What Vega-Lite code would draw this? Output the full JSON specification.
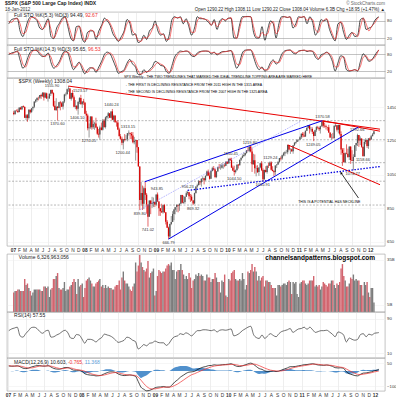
{
"$schema":"https://vega.github.io/schema/vega-lite/v6.json",
"padding":{"left":5,"top":0,"right":0,"bottom":0},
"background":"white",
"spacing":0,
"title":{"text":"$SPX (S&P 500 Large Cap Index) INDX","subtitle":"18-Jan-2012","anchor":"start","frame":"bounds","fontSize":5,"fontWeight":"bold","color":"#222","subtitleFontSize":4.5,"subtitleColor":"#333","subtitlePadding":1,"offset":-11},
"config":{
 "font":"Liberation Sans",
 "view":{"stroke":"#9c9c9c","strokeWidth":0.6},
 "axis":{"labelFontSize":4.3,"labelColor":"#333","domain":false,"ticks":false,"tickSize":0,"labelPadding":1.5,"gridColor":"#ececec","gridWidth":0.5,"minExtent":0,"titlePadding":0},
 "title":{"font":"Liberation Sans","subtitleFont":"Liberation Sans"}
},
"datasets":{
"p":[
{"d":"2007-01-05","o":1418,"h":1429,"l":1403,"c":1409.7,"v":13},
{"d":"2007-01-12","o":1410,"h":1431,"l":1405,"c":1430.7,"v":14},
{"d":"2007-01-19","o":1431,"h":1437,"l":1425,"c":1430.5,"v":14},
{"d":"2007-01-26","o":1430,"h":1441,"l":1416,"c":1422.2,"v":15},
{"d":"2007-02-02","o":1422,"h":1449,"l":1420,"c":1448.4,"v":15},
{"d":"2007-02-09","o":1448,"h":1453,"l":1436,"c":1438.1,"v":14},
{"d":"2007-02-16","o":1438,"h":1457,"l":1433,"c":1455.5,"v":14},
{"d":"2007-02-23","o":1456,"h":1461,"l":1448,"c":1451.2,"v":14},
{"d":"2007-03-02","o":1451,"h":1456,"l":1386,"c":1387.2,"v":22},
{"d":"2007-03-09","o":1387,"h":1410,"l":1374,"c":1402.8,"v":18},
{"d":"2007-03-16","o":1403,"h":1410,"l":1364,"c":1386.9,"v":19},
{"d":"2007-03-23","o":1387,"h":1438,"l":1377,"c":1436.1,"v":16},
{"d":"2007-03-30","o":1436,"h":1437,"l":1413,"c":1420.9,"v":14},
{"d":"2007-04-06","o":1421,"h":1445,"l":1418,"c":1443.8,"v":11},
{"d":"2007-04-13","o":1444,"h":1453,"l":1431,"c":1452.9,"v":13},
{"d":"2007-04-20","o":1453,"h":1485,"l":1445,"c":1484.4,"v":15},
{"d":"2007-04-27","o":1484,"h":1498,"l":1476,"c":1494.1,"v":15},
{"d":"2007-05-04","o":1494,"h":1510,"l":1483,"c":1505.6,"v":15},
{"d":"2007-05-11","o":1506,"h":1513,"l":1491,"c":1505.9,"v":15},
{"d":"2007-05-18","o":1506,"h":1523,"l":1498,"c":1522.8,"v":15},
{"d":"2007-05-25","o":1523,"h":1530,"l":1500,"c":1515.7,"v":14},
{"d":"2007-06-01","o":1516,"h":1540,"l":1512,"c":1536.3,"v":14},
{"d":"2007-06-08","o":1536,"h":1540,"l":1490,"c":1507.7,"v":17},
{"d":"2007-06-15","o":1508,"h":1539,"l":1504,"c":1532.9,"v":17},
{"d":"2007-06-22","o":1533,"h":1537,"l":1500,"c":1502.6,"v":16},
{"d":"2007-06-29","o":1503,"h":1515,"l":1484,"c":1503.4,"v":17},
{"d":"2007-07-06","o":1503,"h":1532,"l":1500,"c":1530.4,"v":10},
{"d":"2007-07-13","o":1530,"h":1555,"l":1517,"c":1552.5,"v":15},
{"d":"2007-07-20","o":1552,"h":1556,"l":1528,"c":1534.1,"v":16},
{"d":"2007-07-27","o":1534,"h":1539,"l":1452,"c":1458.9,"v":22},
{"d":"2007-08-03","o":1459,"h":1488,"l":1433,"c":1433.1,"v":22},
{"d":"2007-08-10","o":1433,"h":1504,"l":1430,"c":1453.6,"v":24},
{"d":"2007-08-17","o":1454,"h":1456,"l":1371,"c":1445.9,"v":26},
{"d":"2007-08-24","o":1446,"h":1482,"l":1444,"c":1479.4,"v":16},
{"d":"2007-08-31","o":1479,"h":1488,"l":1432,"c":1474,"v":15},
{"d":"2007-09-07","o":1474,"h":1482,"l":1453,"c":1453.6,"v":15},
{"d":"2007-09-14","o":1454,"h":1485,"l":1437,"c":1484.3,"v":16},
{"d":"2007-09-21","o":1484,"h":1530,"l":1475,"c":1525.8,"v":20},
{"d":"2007-09-28","o":1526,"h":1538,"l":1516,"c":1526.8,"v":14},
{"d":"2007-10-05","o":1527,"h":1561,"l":1527,"c":1557.6,"v":15},
{"d":"2007-10-12","o":1558,"h":1576,"l":1542,"c":1561.8,"v":15},
{"d":"2007-10-19","o":1562,"h":1563,"l":1500,"c":1500.6,"v":17},
{"d":"2007-10-26","o":1501,"h":1536,"l":1490,"c":1535.3,"v":18},
{"d":"2007-11-02","o":1535,"h":1552,"l":1502,"c":1509.7,"v":20},
{"d":"2007-11-09","o":1510,"h":1520,"l":1450,"c":1453.7,"v":22},
{"d":"2007-11-16","o":1454,"h":1493,"l":1439,"c":1458.7,"v":20},
{"d":"2007-11-23","o":1459,"h":1462,"l":1431,"c":1440.7,"v":12},
{"d":"2007-11-30","o":1441,"h":1488,"l":1406,"c":1481.1,"v":22},
{"d":"2007-12-07","o":1481,"h":1510,"l":1469,"c":1504.7,"v":17},
{"d":"2007-12-14","o":1505,"h":1524,"l":1467,"c":1468,"v":18},
{"d":"2007-12-21","o":1468,"h":1485,"l":1446,"c":1484.5,"v":19},
{"d":"2007-12-28","o":1485,"h":1500,"l":1465,"c":1478.5,"v":10},
{"d":"2008-01-04","o":1478,"h":1478,"l":1411,"c":1411.6,"v":16},
{"d":"2008-01-11","o":1412,"h":1429,"l":1364,"c":1401,"v":21},
{"d":"2008-01-18","o":1401,"h":1412,"l":1313,"c":1325.2,"v":22},
{"d":"2008-01-25","o":1325,"h":1354,"l":1270,"c":1330.6,"v":23},
{"d":"2008-02-01","o":1331,"h":1396,"l":1322,"c":1395.4,"v":21},
{"d":"2008-02-08","o":1395,"h":1396,"l":1317,"c":1331.3,"v":19},
{"d":"2008-02-15","o":1331,"h":1368,"l":1321,"c":1350,"v":17},
{"d":"2008-02-22","o":1350,"h":1364,"l":1316,"c":1353.1,"v":17},
{"d":"2008-02-29","o":1353,"h":1388,"l":1326,"c":1330.6,"v":19},
{"d":"2008-03-07","o":1331,"h":1336,"l":1285,"c":1293.4,"v":20},
{"d":"2008-03-14","o":1293,"h":1321,"l":1270,"c":1288.1,"v":21},
{"d":"2008-03-20","o":1288,"h":1341,"l":1257,"c":1329.5,"v":22},
{"d":"2008-03-28","o":1330,"h":1359,"l":1313,"c":1315.2,"v":17},
{"d":"2008-04-04","o":1316,"h":1380,"l":1312,"c":1370.4,"v":18},
{"d":"2008-04-11","o":1370,"h":1380,"l":1328,"c":1332.8,"v":16},
{"d":"2008-04-18","o":1333,"h":1395,"l":1324,"c":1390.3,"v":18},
{"d":"2008-04-25","o":1390,"h":1400,"l":1376,"c":1397.8,"v":16},
{"d":"2008-05-02","o":1398,"h":1422,"l":1383,"c":1413.9,"v":17},
{"d":"2008-05-09","o":1414,"h":1416,"l":1386,"c":1388.3,"v":16},
{"d":"2008-05-16","o":1388,"h":1426,"l":1385,"c":1425.4,"v":16},
{"d":"2008-05-23","o":1426,"h":1440,"l":1373,"c":1375.9,"v":15},
{"d":"2008-05-30","o":1376,"h":1406,"l":1362,"c":1400.4,"v":15},
{"d":"2008-06-06","o":1400,"h":1404,"l":1359,"c":1360.7,"v":17},
{"d":"2008-06-13","o":1361,"h":1370,"l":1335,"c":1360,"v":18},
{"d":"2008-06-20","o":1360,"h":1372,"l":1315,"c":1317.9,"v":18},
{"d":"2008-06-27","o":1318,"h":1329,"l":1278,"c":1278.4,"v":21},
{"d":"2008-07-03","o":1278,"h":1291,"l":1257,"c":1262.9,"v":15},
{"d":"2008-07-11","o":1263,"h":1276,"l":1225,"c":1239.5,"v":23},
{"d":"2008-07-18","o":1239,"h":1262,"l":1200,"c":1260.7,"v":27},
{"d":"2008-07-25","o":1261,"h":1291,"l":1247,"c":1257.8,"v":21},
{"d":"2008-08-01","o":1258,"h":1285,"l":1253,"c":1260.3,"v":19},
{"d":"2008-08-08","o":1260,"h":1296,"l":1248,"c":1296.3,"v":19},
{"d":"2008-08-15","o":1296,"h":1313,"l":1282,"c":1298.2,"v":17},
{"d":"2008-08-22","o":1298,"h":1300,"l":1261,"c":1292.2,"v":15},
{"d":"2008-08-29","o":1292,"h":1303,"l":1262,"c":1282.8,"v":14},
{"d":"2008-09-05","o":1283,"h":1303,"l":1236,"c":1242.3,"v":17},
{"d":"2008-09-12","o":1242,"h":1274,"l":1230,"c":1251.7,"v":19},
{"d":"2008-09-19","o":1252,"h":1256,"l":1133,"c":1255.1,"v":33},
{"d":"2008-09-26","o":1255,"h":1256,"l":1180,"c":1213.3,"v":27},
{"d":"2008-10-03","o":1213,"h":1214,"l":1097,"c":1099.2,"v":31},
{"d":"2008-10-10","o":1099,"h":1100,"l":840,"c":899.2,"v":38},
{"d":"2008-10-17","o":899,"h":1006,"l":866,"c":940.6,"v":33},
{"d":"2008-10-24","o":941,"h":985,"l":840,"c":876.8,"v":30},
{"d":"2008-10-31","o":877,"h":979,"l":845,"c":968.8,"v":28},
{"d":"2008-11-07","o":969,"h":1008,"l":899,"c":931,"v":27},
{"d":"2008-11-14","o":931,"h":941,"l":818,"c":873.3,"v":29},
{"d":"2008-11-21","o":873,"h":873,"l":741,"c":800,"v":34},
{"d":"2008-11-28","o":800,"h":897,"l":800,"c":896.2,"v":23},
{"d":"2008-12-05","o":896,"h":897,"l":815,"c":876.1,"v":26},
{"d":"2008-12-12","o":876,"h":918,"l":852,"c":879.7,"v":27},
{"d":"2008-12-19","o":880,"h":914,"l":857,"c":887.9,"v":29},
{"d":"2008-12-26","o":888,"h":890,"l":857,"c":872.8,"v":11},
{"d":"2009-01-02","o":873,"h":932,"l":866,"c":931.8,"v":14},
{"d":"2009-01-09","o":932,"h":944,"l":889,"c":890.4,"v":24},
{"d":"2009-01-16","o":890,"h":892,"l":805,"c":850.1,"v":28},
{"d":"2009-01-23","o":850,"h":851,"l":805,"c":832,"v":27},
{"d":"2009-01-30","o":832,"h":877,"l":822,"c":825.9,"v":26},
{"d":"2009-02-06","o":826,"h":870,"l":818,"c":868.6,"v":27},
{"d":"2009-02-13","o":869,"h":876,"l":822,"c":826.8,"v":27},
{"d":"2009-02-20","o":827,"h":827,"l":754,"c":770.1,"v":29},
{"d":"2009-02-27","o":770,"h":780,"l":734,"c":735.1,"v":31},
{"d":"2009-03-06","o":735,"h":741,"l":667,"c":683.4,"v":32},
{"d":"2009-03-13","o":683,"h":759,"l":672,"c":756.6,"v":31},
{"d":"2009-03-20","o":757,"h":804,"l":750,"c":768.5,"v":33},
{"d":"2009-03-27","o":769,"h":833,"l":768,"c":815.9,"v":28},
{"d":"2009-04-03","o":816,"h":845,"l":779,"c":842.5,"v":28},
{"d":"2009-04-09","o":842,"h":857,"l":814,"c":856.6,"v":22},
{"d":"2009-04-17","o":857,"h":875,"l":829,"c":869.6,"v":27},
{"d":"2009-04-24","o":870,"h":872,"l":826,"c":866.2,"v":28},
{"d":"2009-05-01","o":866,"h":878,"l":835,"c":877.5,"v":28},
{"d":"2009-05-08","o":877,"h":930,"l":876,"c":929.2,"v":32},
{"d":"2009-05-15","o":929,"h":930,"l":879,"c":882.9,"v":28},
{"d":"2009-05-22","o":883,"h":925,"l":877,"c":887,"v":25},
{"d":"2009-05-29","o":887,"h":920,"l":877,"c":919.1,"v":22},
{"d":"2009-06-05","o":919,"h":951,"l":918,"c":940.1,"v":24},
{"d":"2009-06-12","o":940,"h":956,"l":929,"c":946.2,"v":22},
{"d":"2009-06-19","o":946,"h":946,"l":903,"c":921.2,"v":26},
{"d":"2009-06-26","o":921,"h":935,"l":888,"c":918.9,"v":23},
{"d":"2009-07-02","o":919,"h":931,"l":896,"c":896.4,"v":16},
{"d":"2009-07-10","o":896,"h":899,"l":869,"c":879.1,"v":21},
{"d":"2009-07-17","o":879,"h":943,"l":875,"c":940.4,"v":22},
{"d":"2009-07-24","o":940,"h":980,"l":940,"c":979.3,"v":25},
{"d":"2009-07-31","o":979,"h":996,"l":972,"c":987.5,"v":24},
{"d":"2009-08-07","o":988,"h":1018,"l":985,"c":1010.5,"v":26},
{"d":"2009-08-14","o":1011,"h":1013,"l":990,"c":1004.1,"v":24},
{"d":"2009-08-21","o":1004,"h":1027,"l":979,"c":1026.1,"v":25},
{"d":"2009-08-28","o":1026,"h":1040,"l":1008,"c":1028.9,"v":24},
{"d":"2009-09-04","o":1029,"h":1031,"l":992,"c":1016.4,"v":21},
{"d":"2009-09-11","o":1016,"h":1045,"l":1016,"c":1042.7,"v":21},
{"d":"2009-09-18","o":1043,"h":1074,"l":1040,"c":1068.3,"v":25},
{"d":"2009-09-25","o":1068,"h":1080,"l":1041,"c":1044.4,"v":23},
{"d":"2009-10-02","o":1044,"h":1063,"l":1020,"c":1025.2,"v":23},
{"d":"2009-10-09","o":1025,"h":1076,"l":1025,"c":1071.5,"v":20},
{"d":"2009-10-16","o":1071,"h":1097,"l":1069,"c":1087.7,"v":22},
{"d":"2009-10-23","o":1088,"h":1101,"l":1074,"c":1079.6,"v":22},
{"d":"2009-10-30","o":1080,"h":1085,"l":1029,"c":1036.2,"v":26},
{"d":"2009-11-06","o":1036,"h":1071,"l":1029,"c":1069.3,"v":23},
{"d":"2009-11-13","o":1069,"h":1097,"l":1068,"c":1093.5,"v":20},
{"d":"2009-11-20","o":1093,"h":1113,"l":1085,"c":1091.4,"v":20},
{"d":"2009-11-27","o":1091,"h":1111,"l":1079,"c":1091.5,"v":13},
{"d":"2009-12-04","o":1091,"h":1119,"l":1086,"c":1106,"v":21},
{"d":"2009-12-11","o":1106,"h":1111,"l":1085,"c":1106.4,"v":20},
{"d":"2009-12-18","o":1106,"h":1117,"l":1094,"c":1102.5,"v":25},
{"d":"2009-12-24","o":1102,"h":1129,"l":1102,"c":1126.5,"v":11},
{"d":"2009-12-31","o":1126,"h":1130,"l":1114,"c":1115.1,"v":10},
{"d":"2010-01-08","o":1116,"h":1146,"l":1116,"c":1145,"v":22},
{"d":"2010-01-15","o":1145,"h":1150,"l":1131,"c":1136,"v":21},
{"d":"2010-01-22","o":1136,"h":1150,"l":1090,"c":1091.8,"v":26},
{"d":"2010-01-29","o":1092,"h":1104,"l":1071,"c":1073.9,"v":27},
{"d":"2010-02-05","o":1074,"h":1103,"l":1044,"c":1066.2,"v":28},
{"d":"2010-02-12","o":1066,"h":1081,"l":1057,"c":1075.5,"v":22},
{"d":"2010-02-19","o":1076,"h":1112,"l":1075,"c":1109.2,"v":21},
{"d":"2010-02-26","o":1109,"h":1113,"l":1086,"c":1104.5,"v":21},
{"d":"2010-03-05","o":1105,"h":1139,"l":1104,"c":1138.7,"v":22},
{"d":"2010-03-12","o":1139,"h":1151,"l":1131,"c":1150,"v":21},
{"d":"2010-03-19","o":1150,"h":1170,"l":1147,"c":1159.9,"v":26},
{"d":"2010-03-26","o":1160,"h":1181,"l":1155,"c":1166.6,"v":22},
{"d":"2010-04-02","o":1167,"h":1181,"l":1160,"c":1178.1,"v":15},
{"d":"2010-04-09","o":1178,"h":1195,"l":1175,"c":1194.4,"v":18},
{"d":"2010-04-16","o":1194,"h":1214,"l":1188,"c":1192.1,"v":27},
{"d":"2010-04-23","o":1192,"h":1217,"l":1183,"c":1217.3,"v":26},
{"d":"2010-04-30","o":1217,"h":1220,"l":1182,"c":1186.7,"v":28},
{"d":"2010-05-07","o":1187,"h":1206,"l":1066,"c":1110.9,"v":32},
{"d":"2010-05-14","o":1111,"h":1174,"l":1110,"c":1135.7,"v":27},
{"d":"2010-05-21","o":1136,"h":1170,"l":1056,"c":1087.7,"v":30},
{"d":"2010-05-28","o":1088,"h":1104,"l":1040,"c":1089.4,"v":27},
{"d":"2010-06-04","o":1089,"h":1106,"l":1060,"c":1064.9,"v":21},
{"d":"2010-06-11","o":1065,"h":1093,"l":1043,"c":1091.6,"v":24},
{"d":"2010-06-18","o":1092,"h":1120,"l":1087,"c":1117.5,"v":21},
{"d":"2010-06-25","o":1117,"h":1131,"l":1071,"c":1076.8,"v":23},
{"d":"2010-07-02","o":1077,"h":1087,"l":1011,"c":1022.6,"v":24},
{"d":"2010-07-09","o":1023,"h":1079,"l":1019,"c":1078,"v":17},
{"d":"2010-07-16","o":1078,"h":1100,"l":1062,"c":1064.9,"v":21},
{"d":"2010-07-23","o":1065,"h":1103,"l":1056,"c":1102.7,"v":21},
{"d":"2010-07-30","o":1103,"h":1120,"l":1089,"c":1101.6,"v":20},
{"d":"2010-08-06","o":1102,"h":1128,"l":1101,"c":1121.6,"v":20},
{"d":"2010-08-13","o":1122,"h":1129,"l":1074,"c":1079.3,"v":18},
{"d":"2010-08-20","o":1079,"h":1100,"l":1069,"c":1071.7,"v":16},
{"d":"2010-08-27","o":1072,"h":1076,"l":1040,"c":1064.6,"v":16},
{"d":"2010-09-03","o":1065,"h":1105,"l":1048,"c":1104.5,"v":16},
{"d":"2010-09-10","o":1105,"h":1111,"l":1089,"c":1109.6,"v":11},
{"d":"2010-09-17","o":1110,"h":1131,"l":1108,"c":1125.6,"v":18},
{"d":"2010-09-24","o":1126,"h":1149,"l":1123,"c":1148.7,"v":18},
{"d":"2010-10-01","o":1149,"h":1158,"l":1134,"c":1146.2,"v":17},
{"d":"2010-10-08","o":1146,"h":1168,"l":1138,"c":1165.2,"v":18},
{"d":"2010-10-15","o":1165,"h":1184,"l":1159,"c":1176.2,"v":19},
{"d":"2010-10-22","o":1176,"h":1189,"l":1160,"c":1183.1,"v":19},
{"d":"2010-10-29","o":1183,"h":1197,"l":1176,"c":1183.3,"v":18},
{"d":"2010-11-05","o":1183,"h":1227,"l":1171,"c":1225.9,"v":20},
{"d":"2010-11-12","o":1226,"h":1226,"l":1194,"c":1199.2,"v":21},
{"d":"2010-11-19","o":1199,"h":1207,"l":1173,"c":1199.7,"v":20},
{"d":"2010-11-26","o":1200,"h":1205,"l":1185,"c":1189.4,"v":12},
{"d":"2010-12-03","o":1189,"h":1225,"l":1174,"c":1224.7,"v":20},
{"d":"2010-12-10","o":1225,"h":1241,"l":1220,"c":1240.4,"v":19},
{"d":"2010-12-17","o":1240,"h":1246,"l":1232,"c":1243.9,"v":20},
{"d":"2010-12-23","o":1244,"h":1259,"l":1244,"c":1256.8,"v":12},
{"d":"2010-12-31","o":1257,"h":1260,"l":1247,"c":1257.6,"v":10},
{"d":"2011-01-07","o":1258,"h":1278,"l":1257,"c":1271.5,"v":19},
{"d":"2011-01-14","o":1272,"h":1294,"l":1262,"c":1293.2,"v":20},
{"d":"2011-01-21","o":1293,"h":1303,"l":1271,"c":1283.4,"v":21},
{"d":"2011-01-28","o":1283,"h":1302,"l":1273,"c":1276.3,"v":21},
{"d":"2011-02-04","o":1276,"h":1311,"l":1276,"c":1310.9,"v":19},
{"d":"2011-02-11","o":1311,"h":1330,"l":1309,"c":1329.2,"v":18},
{"d":"2011-02-18","o":1329,"h":1344,"l":1325,"c":1343,"v":19},
{"d":"2011-02-25","o":1343,"h":1343,"l":1294,"c":1319.9,"v":21},
{"d":"2011-03-04","o":1320,"h":1333,"l":1306,"c":1321.2,"v":21},
{"d":"2011-03-11","o":1321,"h":1331,"l":1291,"c":1304.3,"v":21},
{"d":"2011-03-18","o":1304,"h":1305,"l":1249,"c":1279.2,"v":24},
{"d":"2011-03-25","o":1279,"h":1316,"l":1279,"c":1313.8,"v":17},
{"d":"2011-04-01","o":1314,"h":1338,"l":1304,"c":1332.4,"v":18},
{"d":"2011-04-08","o":1332,"h":1340,"l":1320,"c":1328.2,"v":17},
{"d":"2011-04-15","o":1328,"h":1329,"l":1309,"c":1319.7,"v":18},
{"d":"2011-04-21","o":1320,"h":1341,"l":1294,"c":1337.4,"v":15},
{"d":"2011-04-29","o":1337,"h":1364,"l":1333,"c":1363.6,"v":17},
{"d":"2011-05-06","o":1364,"h":1371,"l":1329,"c":1340.2,"v":20},
{"d":"2011-05-13","o":1340,"h":1359,"l":1329,"c":1337.8,"v":19},
{"d":"2011-05-20","o":1338,"h":1347,"l":1318,"c":1333.3,"v":18},
{"d":"2011-05-27","o":1333,"h":1334,"l":1311,"c":1331.1,"v":17},
{"d":"2011-06-03","o":1331,"h":1346,"l":1298,"c":1300.2,"v":19},
{"d":"2011-06-10","o":1300,"h":1300,"l":1268,"c":1271,"v":19},
{"d":"2011-06-17","o":1271,"h":1292,"l":1258,"c":1271.5,"v":21},
{"d":"2011-06-24","o":1271,"h":1298,"l":1262,"c":1268.5,"v":21},
{"d":"2011-07-01","o":1268,"h":1342,"l":1263,"c":1339.7,"v":18},
{"d":"2011-07-08","o":1340,"h":1356,"l":1333,"c":1343.8,"v":16},
{"d":"2011-07-15","o":1344,"h":1344,"l":1306,"c":1316.1,"v":19},
{"d":"2011-07-22","o":1316,"h":1347,"l":1295,"c":1345,"v":18},
{"d":"2011-07-29","o":1345,"h":1346,"l":1283,"c":1292.3,"v":20},
{"d":"2011-08-05","o":1292,"h":1307,"l":1168,"c":1199.4,"v":29},
{"d":"2011-08-12","o":1199,"h":1208,"l":1102,"c":1178.8,"v":32},
{"d":"2011-08-19","o":1179,"h":1208,"l":1122,"c":1123.5,"v":24},
{"d":"2011-08-26","o":1124,"h":1182,"l":1121,"c":1176.8,"v":21},
{"d":"2011-09-02","o":1177,"h":1230,"l":1171,"c":1174,"v":17},
{"d":"2011-09-09","o":1174,"h":1204,"l":1150,"c":1154.2,"v":17},
{"d":"2011-09-16","o":1154,"h":1220,"l":1137,"c":1216,"v":19},
{"d":"2011-09-23","o":1216,"h":1220,"l":1114,"c":1136.4,"v":23},
{"d":"2011-09-30","o":1136,"h":1195,"l":1131,"c":1131.4,"v":22},
{"d":"2011-10-07","o":1131,"h":1171,"l":1075,"c":1155.5,"v":25},
{"d":"2011-10-14","o":1155,"h":1225,"l":1155,"c":1224.6,"v":21},
{"d":"2011-10-21","o":1225,"h":1239,"l":1191,"c":1238.3,"v":22},
{"d":"2011-10-28","o":1238,"h":1293,"l":1220,"c":1285.1,"v":21},
{"d":"2011-11-04","o":1285,"h":1285,"l":1215,"c":1253.2,"v":21},
{"d":"2011-11-11","o":1253,"h":1277,"l":1226,"c":1263.9,"v":18},
{"d":"2011-11-18","o":1264,"h":1266,"l":1210,"c":1215.7,"v":18},
{"d":"2011-11-25","o":1216,"h":1216,"l":1159,"c":1158.7,"v":11},
{"d":"2011-12-02","o":1159,"h":1260,"l":1159,"c":1244.3,"v":20},
{"d":"2011-12-09","o":1244,"h":1267,"l":1231,"c":1255.2,"v":18},
{"d":"2011-12-16","o":1255,"h":1256,"l":1209,"c":1219.7,"v":20},
{"d":"2011-12-23","o":1220,"h":1266,"l":1203,"c":1265.3,"v":13},
{"d":"2011-12-30","o":1265,"h":1270,"l":1249,"c":1257.6,"v":10},
{"d":"2012-01-06","o":1258,"h":1285,"l":1258,"c":1277.8,"v":16},
{"d":"2012-01-13","o":1278,"h":1297,"l":1278,"c":1289.1,"v":16},
{"d":"2012-01-20","o":1290.22,"h":1308.11,"l":1290.22,"c":1308.04,"v":6.33}
],
"i":[
{"d":"2007-01-05","k5":70,"d5":78,"k14":80,"d14":85,"rsi":62,"macd":32,"sig":33,"hist":-1},
{"d":"2007-01-19","k5":85,"d5":75,"k14":85,"d14":82,"rsi":66,"macd":30,"sig":32,"hist":-2},
{"d":"2007-02-02","k5":88,"d5":86,"k14":88,"d14":86,"rsi":68,"macd":31,"sig":31,"hist":0},
{"d":"2007-02-16","k5":90,"d5":88,"k14":92,"d14":90,"rsi":70,"macd":33,"sig":31,"hist":2},
{"d":"2007-03-02","k5":45,"d5":70,"k14":60,"d14":80,"rsi":50,"macd":27,"sig":31,"hist":-4},
{"d":"2007-03-16","k5":25,"d5":35,"k14":30,"d14":45,"rsi":47,"macd":18,"sig":27,"hist":-9},
{"d":"2007-03-30","k5":55,"d5":40,"k14":45,"d14":35,"rsi":55,"macd":15,"sig":22,"hist":-7},
{"d":"2007-04-13","k5":85,"d5":70,"k14":75,"d14":60,"rsi":62,"macd":18,"sig":19,"hist":-1},
{"d":"2007-04-27","k5":96,"d5":92,"k14":92,"d14":85,"rsi":69,"macd":25,"sig":19,"hist":6},
{"d":"2007-05-11","k5":90,"d5":93,"k14":95,"d14":94,"rsi":70,"macd":30,"sig":22,"hist":8},
{"d":"2007-05-25","k5":82,"d5":86,"k14":93,"d14":94,"rsi":67,"macd":34,"sig":27,"hist":7},
{"d":"2007-06-08","k5":55,"d5":70,"k14":80,"d14":87,"rsi":60,"macd":34,"sig":31,"hist":3},
{"d":"2007-06-22","k5":50,"d5":52,"k14":72,"d14":75,"rsi":56,"macd":31,"sig":32,"hist":-1},
{"d":"2007-07-06","k5":70,"d5":60,"k14":75,"d14":72,"rsi":61,"macd":31,"sig":32,"hist":-1},
{"d":"2007-07-20","k5":88,"d5":82,"k14":85,"d14":80,"rsi":63,"macd":34,"sig":32,"hist":2},
{"d":"2007-08-03","k5":25,"d5":50,"k14":50,"d14":70,"rsi":47,"macd":25,"sig":31,"hist":-6},
{"d":"2007-08-17","k5":18,"d5":20,"k14":30,"d14":40,"rsi":48,"macd":16,"sig":26,"hist":-10},
{"d":"2007-08-31","k5":55,"d5":38,"k14":40,"d14":35,"rsi":52,"macd":12,"sig":20,"hist":-8},
{"d":"2007-09-14","k5":72,"d5":65,"k14":55,"d14":48,"rsi":55,"macd":11,"sig":16,"hist":-5},
{"d":"2007-09-28","k5":90,"d5":82,"k14":80,"d14":70,"rsi":60,"macd":16,"sig":14,"hist":2},
{"d":"2007-10-12","k5":95,"d5":93,"k14":92,"d14":88,"rsi":63,"macd":22,"sig":16,"hist":6},
{"d":"2007-10-26","k5":60,"d5":72,"k14":85,"d14":88,"rsi":57,"macd":22,"sig":19,"hist":3},
{"d":"2007-11-09","k5":20,"d5":40,"k14":50,"d14":70,"rsi":45,"macd":14,"sig":19,"hist":-5},
{"d":"2007-11-23","k5":10,"d5":12,"k14":25,"d14":35,"rsi":44,"macd":5,"sig":14,"hist":-9},
{"d":"2007-12-07","k5":60,"d5":40,"k14":40,"d14":35,"rsi":53,"macd":4,"sig":9,"hist":-5},
{"d":"2007-12-21","k5":62,"d5":62,"k14":52,"d14":48,"rsi":52,"macd":4,"sig":6,"hist":-2},
{"d":"2008-01-04","k5":20,"d5":40,"k14":30,"d14":40,"rsi":43,"macd":-3,"sig":4,"hist":-7},
{"d":"2008-01-18","k5":5,"d5":10,"k14":10,"d14":20,"rsi":33,"macd":-18,"sig":-2,"hist":-16},
{"d":"2008-02-01","k5":40,"d5":20,"k14":25,"d14":15,"rsi":42,"macd":-24,"sig":-10,"hist":-14},
{"d":"2008-02-15","k5":45,"d5":48,"k14":32,"d14":30,"rsi":42,"macd":-27,"sig":-17,"hist":-10},
{"d":"2008-02-29","k5":45,"d5":45,"k14":30,"d14":32,"rsi":40,"macd":-28,"sig":-22,"hist":-6},
{"d":"2008-03-14","k5":15,"d5":25,"k14":15,"d14":22,"rsi":36,"macd":-32,"sig":-26,"hist":-6},
{"d":"2008-03-28","k5":45,"d5":30,"k14":35,"d14":25,"rsi":42,"macd":-31,"sig":-29,"hist":-2},
{"d":"2008-04-11","k5":65,"d5":60,"k14":55,"d14":45,"rsi":46,"macd":-27,"sig":-29,"hist":2},
{"d":"2008-04-25","k5":90,"d5":80,"k14":80,"d14":68,"rsi":54,"macd":-18,"sig":-26,"hist":8},
{"d":"2008-05-09","k5":80,"d5":85,"k14":88,"d14":82,"rsi":52,"macd":-11,"sig":-21,"hist":10},
{"d":"2008-05-23","k5":65,"d5":72,"k14":82,"d14":85,"rsi":50,"macd":-6,"sig":-16,"hist":10},
{"d":"2008-06-06","k5":35,"d5":50,"k14":60,"d14":75,"rsi":46,"macd":-6,"sig":-12,"hist":6},
{"d":"2008-06-20","k5":20,"d5":25,"k14":35,"d14":50,"rsi":40,"macd":-10,"sig":-10,"hist":0},
{"d":"2008-07-03","k5":8,"d5":12,"k14":12,"d14":22,"rsi":35,"macd":-20,"sig":-12,"hist":-8},
{"d":"2008-07-18","k5":25,"d5":15,"k14":18,"d14":15,"rsi":37,"macd":-27,"sig":-17,"hist":-10},
{"d":"2008-08-01","k5":45,"d5":38,"k14":25,"d14":20,"rsi":40,"macd":-30,"sig":-22,"hist":-8},
{"d":"2008-08-15","k5":85,"d5":70,"k14":48,"d14":38,"rsi":47,"macd":-28,"sig":-25,"hist":-3},
{"d":"2008-08-29","k5":72,"d5":80,"k14":62,"d14":55,"rsi":45,"macd":-26,"sig":-26,"hist":0},
{"d":"2008-09-12","k5":30,"d5":45,"k14":45,"d14":55,"rsi":40,"macd":-29,"sig":-27,"hist":-2},
{"d":"2008-09-26","k5":35,"d5":32,"k14":35,"d14":42,"rsi":37,"macd":-34,"sig":-29,"hist":-5},
{"d":"2008-10-10","k5":4,"d5":12,"k14":8,"d14":20,"rsi":20,"macd":-68,"sig":-40,"hist":-28},
{"d":"2008-10-24","k5":10,"d5":8,"k14":8,"d14":8,"rsi":24,"macd":-105,"sig":-60,"hist":-45},
{"d":"2008-11-07","k5":30,"d5":22,"k14":25,"d14":15,"rsi":30,"macd":-118,"sig":-82,"hist":-36},
{"d":"2008-11-21","k5":15,"d5":20,"k14":15,"d14":18,"rsi":27,"macd":-128,"sig":-100,"hist":-28},
{"d":"2008-12-05","k5":45,"d5":30,"k14":25,"d14":20,"rsi":33,"macd":-125,"sig":-112,"hist":-13},
{"d":"2008-12-19","k5":55,"d5":50,"k14":35,"d14":28,"rsi":34,"macd":-118,"sig":-116,"hist":-2},
{"d":"2009-01-02","k5":80,"d5":68,"k14":55,"d14":42,"rsi":38,"macd":-108,"sig":-115,"hist":7},
{"d":"2009-01-16","k5":45,"d5":60,"k14":50,"d14":50,"rsi":35,"macd":-104,"sig":-112,"hist":8},
{"d":"2009-01-30","k5":30,"d5":35,"k14":40,"d14":45,"rsi":34,"macd":-103,"sig":-108,"hist":5},
{"d":"2009-02-13","k5":35,"d5":32,"k14":38,"d14":40,"rsi":34,"macd":-100,"sig":-105,"hist":5},
{"d":"2009-02-27","k5":8,"d5":15,"k14":18,"d14":28,"rsi":28,"macd":-104,"sig":-104,"hist":0},
{"d":"2009-03-13","k5":30,"d5":15,"k14":12,"d14":15,"rsi":33,"macd":-104,"sig":-104,"hist":0},
{"d":"2009-03-27","k5":85,"d5":60,"k14":40,"d14":25,"rsi":43,"macd":-90,"sig":-101,"hist":11},
{"d":"2009-04-09","k5":95,"d5":92,"k14":70,"d14":55,"rsi":48,"macd":-72,"sig":-94,"hist":22},
{"d":"2009-04-24","k5":90,"d5":92,"k14":85,"d14":78,"rsi":50,"macd":-57,"sig":-84,"hist":27},
{"d":"2009-05-08","k5":95,"d5":92,"k14":92,"d14":88,"rsi":55,"macd":-40,"sig":-72,"hist":32},
{"d":"2009-05-22","k5":70,"d5":78,"k14":90,"d14":90,"rsi":53,"macd":-28,"sig":-60,"hist":32},
{"d":"2009-06-05","k5":88,"d5":80,"k14":92,"d14":92,"rsi":57,"macd":-16,"sig":-47,"hist":31},
{"d":"2009-06-19","k5":60,"d5":72,"k14":88,"d14":90,"rsi":54,"macd":-8,"sig":-35,"hist":27},
{"d":"2009-07-02","k5":30,"d5":40,"k14":75,"d14":82,"rsi":50,"macd":-6,"sig":-25,"hist":19},
{"d":"2009-07-17","k5":55,"d5":40,"k14":72,"d14":75,"rsi":56,"macd":-3,"sig":-18,"hist":15},
{"d":"2009-07-31","k5":95,"d5":80,"k14":85,"d14":80,"rsi":62,"macd":8,"sig":-10,"hist":18},
{"d":"2009-08-14","k5":88,"d5":92,"k14":90,"d14":88,"rsi":62,"macd":17,"sig":-2,"hist":19},
{"d":"2009-08-28","k5":88,"d5":88,"k14":92,"d14":91,"rsi":64,"macd":24,"sig":6,"hist":18},
{"d":"2009-09-11","k5":85,"d5":85,"k14":92,"d14":92,"rsi":64,"macd":28,"sig":13,"hist":15},
{"d":"2009-09-25","k5":75,"d5":82,"k14":90,"d14":92,"rsi":63,"macd":34,"sig":20,"hist":14},
{"d":"2009-10-09","k5":65,"d5":65,"k14":82,"d14":86,"rsi":62,"macd":35,"sig":26,"hist":9},
{"d":"2009-10-23","k5":85,"d5":78,"k14":88,"d14":86,"rsi":64,"macd":39,"sig":31,"hist":8},
{"d":"2009-11-06","k5":50,"d5":60,"k14":78,"d14":82,"rsi":59,"macd":37,"sig":34,"hist":3},
{"d":"2009-11-20","k5":80,"d5":70,"k14":85,"d14":82,"rsi":63,"macd":38,"sig":36,"hist":2},
{"d":"2009-12-04","k5":88,"d5":86,"k14":90,"d14":88,"rsi":64,"macd":40,"sig":38,"hist":2},
{"d":"2009-12-18","k5":80,"d5":84,"k14":90,"d14":90,"rsi":63,"macd":41,"sig":39,"hist":2},
{"d":"2009-12-31","k5":90,"d5":88,"k14":92,"d14":91,"rsi":64,"macd":43,"sig":40,"hist":3},
{"d":"2010-01-15","k5":90,"d5":92,"k14":94,"d14":93,"rsi":66,"macd":46,"sig":42,"hist":4},
{"d":"2010-01-29","k5":20,"d5":45,"k14":60,"d14":78,"rsi":50,"macd":38,"sig":42,"hist":-4},
{"d":"2010-02-12","k5":20,"d5":18,"k14":30,"d14":45,"rsi":52,"macd":30,"sig":39,"hist":-9},
{"d":"2010-02-26","k5":65,"d5":50,"k14":50,"d14":42,"rsi":56,"macd":28,"sig":35,"hist":-7},
{"d":"2010-03-12","k5":95,"d5":88,"k14":85,"d14":70,"rsi":62,"macd":33,"sig":33,"hist":0},
{"d":"2010-03-26","k5":95,"d5":95,"k14":95,"d14":92,"rsi":66,"macd":39,"sig":35,"hist":4},
{"d":"2010-04-09","k5":96,"d5":95,"k14":96,"d14":96,"rsi":70,"macd":45,"sig":38,"hist":7},
{"d":"2010-04-23","k5":95,"d5":95,"k14":96,"d14":96,"rsi":72,"macd":50,"sig":42,"hist":8},
{"d":"2010-05-07","k5":40,"d5":60,"k14":70,"d14":82,"rsi":53,"macd":42,"sig":44,"hist":-2},
{"d":"2010-05-21","k5":20,"d5":25,"k14":40,"d14":55,"rsi":46,"macd":28,"sig":41,"hist":-13},
{"d":"2010-06-04","k5":20,"d5":22,"k14":25,"d14":35,"rsi":44,"macd":15,"sig":34,"hist":-19},
{"d":"2010-06-18","k5":60,"d5":40,"k14":35,"d14":30,"rsi":52,"macd":10,"sig":26,"hist":-16},
{"d":"2010-07-02","k5":12,"d5":30,"k14":20,"d14":25,"rsi":44,"macd":0,"sig":18,"hist":-18},
{"d":"2010-07-16","k5":50,"d5":35,"k14":28,"d14":24,"rsi":50,"macd":-3,"sig":11,"hist":-14},
{"d":"2010-07-30","k5":80,"d5":70,"k14":50,"d14":40,"rsi":55,"macd":-2,"sig":5,"hist":-7},
{"d":"2010-08-13","k5":70,"d5":78,"k14":60,"d14":55,"rsi":51,"macd":-1,"sig":2,"hist":-3},
{"d":"2010-08-27","k5":20,"d5":35,"k14":45,"d14":52,"rsi":48,"macd":-4,"sig":0,"hist":-4},
{"d":"2010-09-10","k5":70,"d5":50,"k14":55,"d14":50,"rsi":55,"macd":-1,"sig":-1,"hist":0},
{"d":"2010-09-24","k5":95,"d5":88,"k14":80,"d14":68,"rsi":60,"macd":6,"sig":0,"hist":6},
{"d":"2010-10-08","k5":95,"d5":95,"k14":92,"d14":88,"rsi":62,"macd":13,"sig":4,"hist":9},
{"d":"2010-10-22","k5":92,"d5":93,"k14":95,"d14":94,"rsi":64,"macd":19,"sig":9,"hist":10},
{"d":"2010-11-05","k5":95,"d5":94,"k14":96,"d14":95,"rsi":67,"macd":27,"sig":15,"hist":12},
{"d":"2010-11-19","k5":55,"d5":70,"k14":85,"d14":90,"rsi":58,"macd":27,"sig":20,"hist":7},
{"d":"2010-12-03","k5":70,"d5":60,"k14":82,"d14":85,"rsi":62,"macd":29,"sig":24,"hist":5},
{"d":"2010-12-17","k5":95,"d5":90,"k14":92,"d14":90,"rsi":66,"macd":33,"sig":28,"hist":5},
{"d":"2010-12-31","k5":92,"d5":94,"k14":94,"d14":94,"rsi":67,"macd":36,"sig":31,"hist":5},
{"d":"2011-01-14","k5":96,"d5":95,"k14":95,"d14":95,"rsi":70,"macd":40,"sig":34,"hist":6},
{"d":"2011-01-28","k5":70,"d5":82,"k14":90,"d14":93,"rsi":65,"macd":41,"sig":37,"hist":4},
{"d":"2011-02-11","k5":95,"d5":88,"k14":93,"d14":92,"rsi":70,"macd":44,"sig":40,"hist":4},
{"d":"2011-02-25","k5":75,"d5":85,"k14":90,"d14":92,"rsi":64,"macd":46,"sig":43,"hist":3},
{"d":"2011-03-11","k5":30,"d5":50,"k14":70,"d14":82,"rsi":58,"macd":42,"sig":44,"hist":-2},
{"d":"2011-03-25","k5":50,"d5":40,"k14":62,"d14":65,"rsi":60,"macd":38,"sig":42,"hist":-4},
{"d":"2011-04-08","k5":85,"d5":70,"k14":78,"d14":70,"rsi":62,"macd":37,"sig":40,"hist":-3},
{"d":"2011-04-21","k5":80,"d5":82,"k14":82,"d14":80,"rsi":62,"macd":36,"sig":38,"hist":-2},
{"d":"2011-05-06","k5":85,"d5":88,"k14":88,"d14":86,"rsi":63,"macd":38,"sig":38,"hist":0},
{"d":"2011-05-20","k5":50,"d5":62,"k14":78,"d14":82,"rsi":59,"macd":35,"sig":37,"hist":-2},
{"d":"2011-06-03","k5":25,"d5":35,"k14":55,"d14":68,"rsi":54,"macd":30,"sig":35,"hist":-5},
{"d":"2011-06-17","k5":10,"d5":15,"k14":20,"d14":35,"rsi":48,"macd":21,"sig":31,"hist":-10},
{"d":"2011-07-01","k5":70,"d5":45,"k14":50,"d14":35,"rsi":59,"macd":19,"sig":27,"hist":-8},
{"d":"2011-07-15","k5":75,"d5":78,"k14":75,"d14":65,"rsi":57,"macd":20,"sig":24,"hist":-4},
{"d":"2011-07-29","k5":40,"d5":60,"k14":70,"d14":72,"rsi":52,"macd":16,"sig":21,"hist":-5},
{"d":"2011-08-12","k5":15,"d5":22,"k14":25,"d14":45,"rsi":36,"macd":-5,"sig":12,"hist":-17},
{"d":"2011-08-26","k5":30,"d5":20,"k14":20,"d14":22,"rsi":45,"macd":-18,"sig":2,"hist":-20},
{"d":"2011-09-09","k5":40,"d5":38,"k14":22,"d14":22,"rsi":42,"macd":-24,"sig":-7,"hist":-17},
{"d":"2011-09-23","k5":25,"d5":35,"k14":25,"d14":25,"rsi":40,"macd":-30,"sig":-15,"hist":-15},
{"d":"2011-10-07","k5":30,"d5":25,"k14":20,"d14":22,"rsi":42,"macd":-32,"sig":-22,"hist":-10},
{"d":"2011-10-21","k5":85,"d5":60,"k14":55,"d14":38,"rsi":53,"macd":-22,"sig":-24,"hist":2},
{"d":"2011-11-04","k5":90,"d5":90,"k14":82,"d14":70,"rsi":55,"macd":-14,"sig":-21,"hist":7},
{"d":"2011-11-18","k5":50,"d5":70,"k14":70,"d14":75,"rsi":48,"macd":-13,"sig":-18,"hist":5},
{"d":"2011-12-02","k5":55,"d5":45,"k14":55,"d14":60,"rsi":54,"macd":-9,"sig":-15,"hist":6},
{"d":"2011-12-16","k5":60,"d5":62,"k14":60,"d14":60,"rsi":52,"macd":-5,"sig":-11,"hist":6},
{"d":"2011-12-30","k5":80,"d5":72,"k14":75,"d14":68,"rsi":56,"macd":1,"sig":-6,"hist":7},
{"d":"2012-01-13","k5":92,"d5":88,"k14":90,"d14":85,"rsi":57,"macd":6,"sig":-3,"hist":9},
{"d":"2012-01-20","k5":94.49,"d5":92.67,"k14":95.65,"d14":96.53,"rsi":57.55,"macd":10.6,"sig":-0.77,"hist":11.37}
],
"tl":[
{"id":"r1","d":"2007-10-11","p":1576.09},{"id":"r1","d":"2012-02-20","p":1320},
{"id":"r2","d":"2011-05-02","p":1370.58},{"id":"r2","d":"2012-02-20","p":1308},
{"id":"r3","d":"2010-11-05","p":1227},{"id":"r3","d":"2012-02-20","p":990},
{"id":"b1","d":"2008-11-04","p":1007.5},{"id":"b1","d":"2011-05-02","p":1370.58},
{"id":"b2","d":"2009-03-06","p":666.79},{"id":"b2","d":"2011-11-01","p":1333},
{"id":"d1","d":"2008-10-10","p":840},{"id":"d1","d":"2011-01-07","p":1365},
{"id":"d2","d":"2009-06-12","p":956.23},{"id":"d2","d":"2012-02-20","p":1098}
],
"hl":[{"p":1370.6},{"p":1256.98},{"p":1121},{"p":1010.91},{"p":869.32}],
"hi":[
{"d":"2007-07-19","p":1555.9,"t":"1555.90"},{"d":"2007-12-11","p":1523.57,"t":"1523.57"},
{"d":"2008-05-19","p":1440.24,"t":"1440.24"},{"d":"2008-08-11","p":1313.15,"t":"1313.15"},
{"d":"2009-01-06","p":943.85,"t":"943.85"},{"d":"2009-06-12","p":956.23,"t":"956.23"},
{"d":"2010-01-19","p":1150.45,"t":"1150.45"},{"d":"2010-04-26","p":1219.8,"t":"1219.80"},
{"d":"2010-08-09","p":1129.24,"t":"1129.24"},{"d":"2011-05-02","p":1370.58,"t":"1370.58"},
{"d":"2011-10-27","p":1292.66,"t":"1292.66"}
],
"lo":[
{"d":"2007-08-16","p":1370.6,"t":"1370.60"},{"d":"2007-11-26","p":1406.1,"t":"1406.10"},
{"d":"2008-01-23","p":1270.05,"t":"1270.05"},{"d":"2008-07-15","p":1200.44,"t":"1200.44"},
{"d":"2008-10-10","p":839.8,"t":"839.80"},{"d":"2008-11-21","p":741.02,"t":"741.02"},
{"d":"2009-03-06","p":666.79,"t":"666.79"},{"d":"2009-07-10","p":869.32,"t":"869.32"},
{"d":"2010-02-05","p":1044.5,"t":"1044.50"},{"d":"2010-07-01","p":1010.91,"t":"1010.91"},
{"d":"2011-03-16","p":1249.05,"t":"1249.05"},{"d":"2011-10-04","p":1074.77,"t":"1074.77"},
{"d":"2011-11-25","p":1158.66,"t":"1158.66"}
]
},
"vconcat":[
{"bounds":"flush","spacing":0,"vconcat":[
{
"width":378,"height":33,
"title":{"text":"© StockCharts.com","subtitle":"Open 1290.22 High 1308.11 Low 1290.22 Close 1308.04 Volume 6.3B Chg +18.95 (+1.47%) ▲","anchor":"end","frame":"group","fontSize":4.5,"fontWeight":"normal","color":"#666","subtitleFontSize":4.5,"subtitleColor":"#222","subtitlePadding":1,"offset":1},
"layer":[
{"data":{"name":"i"},"mark":{"type":"line","color":"#000","strokeWidth":0.7,"interpolate":"monotone"},
 "encoding":{"x":{"field":"d","type":"temporal","title":null,"scale":{"type":"utc","nice":false,"domain":[{"year":2006,"month":12,"date":27,"utc":true},{"year":2012,"month":2,"date":20,"utc":true}]},"axis":{"labels":false,"tickCount":{"interval":"month","step":3},"grid":true,"gridColor":"#dcdcdc","gridWidth":0.5,"labelPadding":0}},
 "y":{"field":"k5","type":"quantitative","title":null,"scale":{"domain":[-4.6,111.6],"nice":false},"axis":{"orient":"right","values":[20,50,80],"grid":true,"gridColor":"#9a9a9a","gridWidth":0.6,"gridDash":{"condition":{"test":"datum.value==50","value":[3,1.5]},"value":[]}}}}},
{"data":{"name":"i"},"mark":{"type":"line","color":"#f03030","strokeWidth":0.7,"interpolate":"monotone"},
 "encoding":{"x":{"field":"d","type":"temporal","title":null},"y":{"field":"d5","type":"quantitative","title":null,"scale":{"domain":[-4.6,111.6],"nice":false}}}},
{"data":{"values":[{"t":"Full STO %K(5,3) %D(3) 94.49,"}]},"mark":{"type":"text","align":"left","baseline":"top","fontSize":5,"color":"#222"},
 "encoding":{"x":{"datum":{"year":2007,"month":1,"date":31,"utc":true}},"y":{"datum":106.5},"text":{"field":"t"}}},
{"data":{"values":[{"t":"92.67"}]},"mark":{"type":"text","align":"left","baseline":"top","fontSize":5,"color":"#f03030"},
 "encoding":{"x":{"datum":{"year":2008,"month":1,"date":20,"utc":true}},"y":{"datum":106.5},"text":{"field":"t"}}}
]
},
{
"width":378,"height":33,
"layer":[
{"data":{"name":"i"},"mark":{"type":"line","color":"#000","strokeWidth":0.7,"interpolate":"monotone"},
 "encoding":{"x":{"field":"d","type":"temporal","title":null,"scale":{"type":"utc","nice":false,"domain":[{"year":2006,"month":12,"date":27,"utc":true},{"year":2012,"month":2,"date":20,"utc":true}]},"axis":{"labels":false,"tickCount":{"interval":"month","step":3},"grid":true,"gridColor":"#dcdcdc","gridWidth":0.5,"labelPadding":0}},
 "y":{"field":"k14","type":"quantitative","title":null,"scale":{"domain":[-5,113.7],"nice":false},"axis":{"orient":"right","values":[20,50,80],"grid":true,"gridColor":"#9a9a9a","gridWidth":0.6,"gridDash":{"condition":{"test":"datum.value==50","value":[3,1.5]},"value":[]}}}}},
{"data":{"name":"i"},"mark":{"type":"line","color":"#f03030","strokeWidth":0.7,"interpolate":"monotone"},
 "encoding":{"x":{"field":"d","type":"temporal","title":null},"y":{"field":"d14","type":"quantitative","title":null,"scale":{"domain":[-5,113.7],"nice":false}}}},
{"data":{"values":[{"t":"Full STO %K(14,3) %D(3) 95.65,"}]},"mark":{"type":"text","align":"left","baseline":"top","fontSize":5,"color":"#222"},
 "encoding":{"x":{"datum":{"year":2007,"month":1,"date":31,"utc":true}},"y":{"datum":108.3},"text":{"field":"t"}}},
{"data":{"values":[{"t":"96.53"}]},"mark":{"type":"text","align":"left","baseline":"top","fontSize":5,"color":"#f03030"},
 "encoding":{"x":{"datum":{"year":2008,"month":2,"date":3,"utc":true}},"y":{"datum":108.3},"text":{"field":"t"}}},
{"data":{"values":[{"t":"SPX Weekly - THE TWO TRENDLINES THAT MARKED THE IDEAL TRENDLINE TOPPING AREA ARE MARKED HERE"}]},"mark":{"type":"text","align":"left","baseline":"middle","fontSize":3.5,"color":"#000"},
 "encoding":{"x":{"datum":{"year":2008,"month":7,"date":31,"utc":true}},"y":{"datum":0},"text":{"field":"t"}}}
]
},
{
"width":378,"height":168,
"layer":[
{"data":{"name":"hl"},"mark":{"type":"rule","color":"#8a8a8a","strokeWidth":0.6,"strokeDash":[2,1.5]},
 "encoding":{"y":{"field":"p","type":"quantitative","title":null,"scale":{"domain":[626,1624],"nice":false},"axis":{"orient":"right","values":[650,700,750,800,850,900,950,1000,1050,1100,1150,1200,1250,1300,1350,1400,1450,1500,1550,1600],"format":"d","labelOverlap":false,"grid":true,"gridColor":"#efefef"}}}},
{"data":{"name":"p"},"mark":{"type":"rule","strokeWidth":0.6},
 "encoding":{"x":{"field":"d","type":"temporal","title":null,"scale":{"type":"utc","nice":false,"domain":[{"year":2006,"month":12,"date":27,"utc":true},{"year":2012,"month":2,"date":20,"utc":true}]},
   "axis":{"tickCount":{"interval":"month","step":1},"labelExpr":"utcyear(datum.value)==2012 && utcmonth(datum.value)>0 ? '' : (utcmonth(datum.value)==0 ? utcFormat(datum.value,'%y') : slice(utcFormat(datum.value,'%b'),0,1))","labelFontWeight":{"condition":{"test":"utcmonth(datum.value)==0","value":"bold"},"value":"normal"},"gridColor":{"condition":{"test":"utcmonth(datum.value)%3==0","value":"#dcdcdc"},"value":"rgba(0,0,0,0)"},"gridWidth":0.5,"labelPadding":1,"labelFontSize":4.8,"labelOverlap":false,"labelFlush":false,"labelBound":false}},
  "y":{"field":"l","type":"quantitative","title":null,"scale":{"domain":[626,1624],"nice":false}},"y2":{"field":"h"},
  "color":{"condition":{"test":"datum.c < datum.o","value":"#d40000"},"value":"#555555"}}},
{"data":{"name":"p"},"mark":{"type":"bar","size":1.3},
 "encoding":{"x":{"field":"d","type":"temporal","title":null},"y":{"field":"o","type":"quantitative","title":null,"scale":{"domain":[626,1624],"nice":false}},"y2":{"field":"c"},
  "color":{"condition":{"test":"datum.c < datum.o","value":"#d40000"},"value":"#555555"}}},
{"data":{"name":"tl"},"transform":[{"filter":{"field":"id","oneOf":["r1","r2","r3","b1","b2"]}}],"mark":{"type":"line","strokeWidth":1},
 "encoding":{"x":{"field":"d","type":"temporal","title":null},"y":{"field":"p","type":"quantitative","title":null,"scale":{"domain":[626,1624],"nice":false}},"detail":{"field":"id"},
  "color":{"field":"id","type":"nominal","legend":null,"scale":{"domain":["r1","r2","r3","b1","b2"],"range":["#e80000","#e80000","#e80000","#0000e8","#0000e8"]}}}},
{"data":{"name":"tl"},"transform":[{"filter":{"field":"id","equal":"d1"}}],"mark":{"type":"line","strokeWidth":0.6,"color":"#7070ff","strokeDash":[1,1]},
 "encoding":{"x":{"field":"d","type":"temporal","title":null},"y":{"field":"p","type":"quantitative","title":null,"scale":{"domain":[626,1624],"nice":false}}}},
{"data":{"name":"tl"},"transform":[{"filter":{"field":"id","equal":"d2"}}],"mark":{"type":"line","strokeWidth":1.3,"color":"#0000e0","strokeDash":[1.5,1.5]},
 "encoding":{"x":{"field":"d","type":"temporal","title":null},"y":{"field":"p","type":"quantitative","title":null,"scale":{"domain":[626,1624],"nice":false}}}},
{"data":{"name":"hi"},"mark":{"type":"text","fontSize":4,"color":"#333","baseline":"bottom","dy":-1.5},
 "encoding":{"x":{"field":"d","type":"temporal","title":null},"y":{"field":"p","type":"quantitative","title":null,"scale":{"domain":[626,1624],"nice":false}},"text":{"field":"t"}}},
{"data":{"name":"lo"},"mark":{"type":"text","fontSize":4,"color":"#333","baseline":"top","dy":1.5},
 "encoding":{"x":{"field":"d","type":"temporal","title":null},"y":{"field":"p","type":"quantitative","title":null,"scale":{"domain":[626,1624],"nice":false}},"text":{"field":"t"}}},
{"data":{"values":[{"t":"$SPX (Weekly) 1308.04"}]},"mark":{"type":"text","align":"left","baseline":"top","fontSize":5,"color":"#222"},
 "encoding":{"x":{"datum":{"year":2007,"month":1,"date":31,"utc":true}},"y":{"datum":1618},"text":{"field":"t"}}},
{"data":{"values":[{"t":["- THE FIRST IS DECLINING RESISTANCE FROM THE 2011 HIGH IN THE 1315 AREA","- THE SECOND IS DECLINING RESISTANCE FROM THE 2007 HIGH IN THE 1325 AREA"]}]},"mark":{"type":"text","align":"left","baseline":"top","fontSize":3.5,"lineHeight":7.5,"color":"#000"},
 "encoding":{"x":{"datum":{"year":2008,"month":7,"date":31,"utc":true}},"y":{"datum":1596},"text":{"field":"t"}}},
{"data":{"values":[{"t":"THIS IS A POTENTIAL H&S NECKLINE"}]},"mark":{"type":"text","align":"left","baseline":"middle","fontSize":3.5,"color":"#000"},
 "encoding":{"x":{"datum":{"year":2010,"month":12,"date":29,"utc":true}},"y":{"datum":887},"text":{"field":"t"}}},
{"data":{"values":[{}]},"mark":{"type":"rule","color":"#000","strokeWidth":0.8},
 "encoding":{"x":{"datum":{"year":2011,"month":11,"date":2,"utc":true}},"x2":{"datum":{"year":2011,"month":8,"date":5,"utc":true}},"y":{"datum":911},"y2":{"datum":1060}}},
{"data":{"values":[{}]},"mark":{"type":"point","shape":"triangle-up","filled":true,"color":"#000","size":8,"angle":324,"opacity":1},
 "encoding":{"x":{"datum":{"year":2011,"month":8,"date":5,"utc":true}},"y":{"datum":1060}}}
]
}
]},
{"bounds":"flush","spacing":0,"vconcat":[
{
"width":378,"height":58,
"layer":[
{"data":{"name":"p"},"mark":{"type":"bar","size":1.4},
 "encoding":{"x":{"field":"d","type":"temporal","title":null,"scale":{"type":"utc","nice":false,"domain":[{"year":2006,"month":12,"date":27,"utc":true},{"year":2012,"month":2,"date":20,"utc":true}]},"axis":{"labels":false,"tickCount":{"interval":"month","step":3},"grid":true,"gridColor":"#dcdcdc","gridWidth":0.5,"labelPadding":0}},
  "y":{"field":"v","type":"quantitative","title":null,"scale":{"domain":[0,38.7],"nice":false},"axis":{"orient":"right","values":[5,10,15,20,25,30,35],"labelExpr":"datum.value + 'B'","grid":true,"gridColor":"#efefef"}},
  "color":{"condition":{"test":"datum.c < datum.o","value":"#d2646e"},"value":"#7c7c7c"}}},
{"data":{"values":[{"t":"Volume 6,326,963,056"}]},"mark":{"type":"text","align":"left","baseline":"top","fontSize":5,"color":"#222"},
 "encoding":{"x":{"datum":{"year":2007,"month":1,"date":31,"utc":true}},"y":{"datum":38.0},"text":{"field":"t"}}},
{"data":{"values":[{"t":"channelsandpatterns.blogspot.com"}]},"mark":{"type":"text","align":"right","baseline":"top","fontSize":6.5,"fontWeight":"bold","color":"#000"},
 "encoding":{"x":{"datum":{"year":2012,"month":1,"date":26,"utc":true}},"y":{"datum":38.0},"text":{"field":"t"}}}
]
},
{
"width":378,"height":46,
"layer":[
{"data":{"name":"i"},"mark":{"type":"line","color":"#333","strokeWidth":0.7,"interpolate":"monotone"},
 "encoding":{"x":{"field":"d","type":"temporal","title":null,"scale":{"type":"utc","nice":false,"domain":[{"year":2006,"month":12,"date":27,"utc":true},{"year":2012,"month":2,"date":20,"utc":true}]},"axis":{"labels":false,"tickCount":{"interval":"month","step":3},"grid":true,"gridColor":"#dcdcdc","gridWidth":0.5,"labelPadding":0}},
  "y":{"field":"rsi","type":"quantitative","title":null,"scale":{"domain":[-1,105],"nice":false},"axis":{"orient":"right","values":[10,30,50,70,90],"grid":true,"gridColor":{"condition":{"test":"datum.value==30||datum.value==50||datum.value==70","value":"#999"},"value":"#ececec"},"gridWidth":0.6,"gridDash":{"condition":{"test":"datum.value==50","value":[3,1,1,1]},"value":[]}}}}},
{"data":{"values":[{"t":"RSI(14) 57.55"}]},"mark":{"type":"text","align":"left","baseline":"top","fontSize":5,"color":"#222"},
 "encoding":{"x":{"datum":{"year":2007,"month":1,"date":31,"utc":true}},"y":{"datum":101.6},"text":{"field":"t"}}}
]
},
{
"width":378,"height":33,
"layer":[
{"data":{"name":"i"},"mark":{"type":"area","color":"#3d84c6","opacity":0.9,"interpolate":"monotone"},
 "encoding":{"x":{"field":"d","type":"temporal","title":null,"scale":{"type":"utc","nice":false,"domain":[{"year":2006,"month":12,"date":27,"utc":true},{"year":2012,"month":2,"date":20,"utc":true}]},
   "axis":{"tickCount":{"interval":"month","step":1},"labelExpr":"utcyear(datum.value)==2012 && utcmonth(datum.value)>0 ? '' : (utcmonth(datum.value)==0 ? utcFormat(datum.value,'%y') : slice(utcFormat(datum.value,'%b'),0,1))","labelFontWeight":{"condition":{"test":"utcmonth(datum.value)==0","value":"bold"},"value":"normal"},"gridColor":{"condition":{"test":"utcmonth(datum.value)%3==0","value":"#dcdcdc"},"value":"rgba(0,0,0,0)"},"gridWidth":0.5,"labelPadding":1,"labelFontSize":4.8,"labelOverlap":false,"labelFlush":false,"labelBound":false}},
  "y":{"field":"hist","type":"quantitative","title":null,"scale":{"domain":[-129,83],"nice":false},"axis":{"orient":"right","values":[-100,-50,0,50],"grid":true,"gridColor":"#ececec"}},
  "y2":{"datum":0}}},
{"data":{"name":"i"},"mark":{"type":"line","color":"#000","strokeWidth":0.7,"interpolate":"monotone"},
 "encoding":{"x":{"field":"d","type":"temporal","title":null},"y":{"field":"macd","type":"quantitative","title":null,"scale":{"domain":[-129,83],"nice":false}}}},
{"data":{"name":"i"},"mark":{"type":"line","color":"#f03030","strokeWidth":0.7,"interpolate":"monotone"},
 "encoding":{"x":{"field":"d","type":"temporal","title":null},"y":{"field":"sig","type":"quantitative","title":null,"scale":{"domain":[-129,83],"nice":false}}}},
{"data":{"values":[{"t":"MACD(12,26,9) 10.603,"}]},"mark":{"type":"text","align":"left","baseline":"top","fontSize":5,"color":"#222"},
 "encoding":{"x":{"datum":{"year":2007,"month":1,"date":31,"utc":true}},"y":{"datum":70.5},"text":{"field":"t"}}},
{"data":{"values":[{"t":"-0.765,"}]},"mark":{"type":"text","align":"left","baseline":"top","fontSize":5,"color":"#f03030"},
 "encoding":{"x":{"datum":{"year":2007,"month":10,"date":26,"utc":true}},"y":{"datum":70.5},"text":{"field":"t"}}},
{"data":{"values":[{"t":"11.368"}]},"mark":{"type":"text","align":"left","baseline":"top","fontSize":5,"color":"#5b9bd8"},
 "encoding":{"x":{"datum":{"year":2008,"month":1,"date":18,"utc":true}},"y":{"datum":70.5},"text":{"field":"t"}}}
]
}
]}
]
}
